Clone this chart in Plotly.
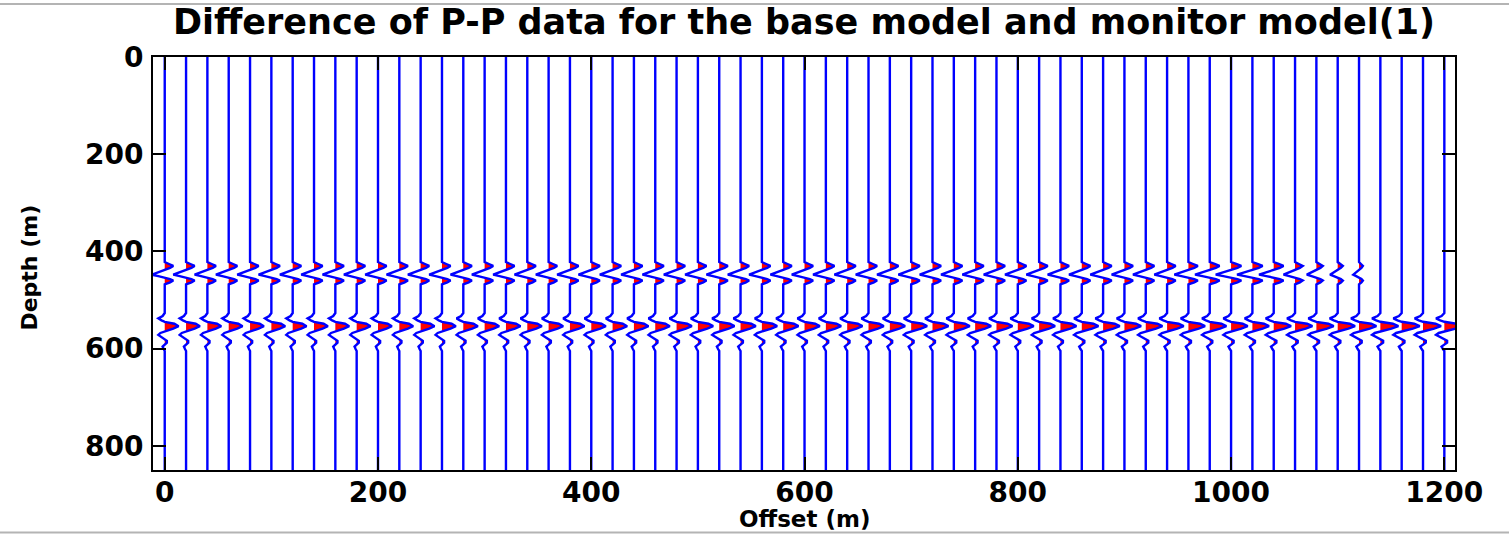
import plotly.graph_objects as go

# ---------------- data ----------------
offsets = list(range(0, 1201, 20))  # trace offsets (m)

# relative amplitude of the shallow event (~448 m) per trace
event1_amp = [1.0] * 48 + [1.1, 1.15, 1.2, 1.2, 1.15, 0.9, 0.75, 0.6, 0.45] + [0.0] * 4
# relative amplitude of the deeper event (~554 m) per trace
event2_amp = [1.0, 1.0, 1.0, 1.0, 1.0, 1.0, 1.0, 1.0, 1.0, 1.0,
              1.0, 1.0, 1.0, 1.0, 1.05, 1.05, 1.05, 1.05, 1.05, 1.05,
              1.05, 1.05, 1.05, 1.05, 1.1, 1.1, 1.1, 1.1, 1.1, 1.1,
              1.1, 1.1, 1.1, 1.1, 1.1, 1.15, 1.15, 1.15, 1.15, 1.15,
              1.15, 1.15, 1.15, 1.2, 1.2, 1.2, 1.2, 1.2, 1.2, 1.2,
              1.2, 1.2, 1.25, 1.25, 1.25, 1.25, 1.25, 1.3, 1.3, 1.3, 1.3]

event1_depth = 448
event2_depth = 554

# wavelet shapes: depth shift (m) and trace deflection (m of offset)
wavelet1_dz = [-26, -22, -18, -14, -10, -5, 0, 3, 6, 9, 12, 16, 20]
wavelet1_a = [0, 4, 8, 5, 0, -7, -12, -6, 0, 5, 8, 5, 0]
wavelet2_dz = [-27, -21, -16, -12, -9, -5, 0, 5, 10, 14, 18, 22, 26, 30, 34, 38, 42, 47, 51]
wavelet2_a = [0, -2, -6, -3, 0, 9, 13, 8, 0, -4, -6, -3, 0, 2, 2, 0, -2, -1, 0]

depth_min, depth_max = 0, 850
x_ticks = [0, 200, 400, 600, 800, 1000, 1200]
y_ticks = [0, 200, 400, 600, 800]

# ---------------- build traces ----------------
line_x, line_y = [], []
fill_x, fill_y = [], []
for off, a1, a2 in zip(offsets, event1_amp, event2_amp):
    dep = [depth_min]
    amp = [0.0]
    if a1 > 0:
        dep += [event1_depth + d for d in wavelet1_dz]
        amp += [a1 * v for v in wavelet1_a]
    if a2 > 0:
        dep += [event2_depth + d for d in wavelet2_dz]
        amp += [a2 * v for v in wavelet2_a]
    dep.append(depth_max)
    amp.append(0.0)
    line_x += [off + v for v in amp] + [None]
    line_y += dep + [None]
    fill_x += [off + max(v, 0.0) for v in amp] + [None]
    fill_y += dep + [None]

fig = go.Figure()
fig.add_trace(go.Scatter(x=fill_x, y=fill_y, mode="lines", fill="toself",
                         fillcolor="#ff0000", line=dict(width=0, color="#ff0000"),
                         hoverinfo="skip", showlegend=False))
fig.add_trace(go.Scatter(x=line_x, y=line_y, mode="lines",
                         line=dict(color="#0000ff", width=2.4),
                         hoverinfo="skip", showlegend=False))

FONT = "DejaVu Sans"
axis_common = dict(showline=True, linecolor="black", linewidth=2, mirror="ticks",
                   ticks="inside", ticklen=13, tickwidth=2, tickcolor="black",
                   showgrid=False, zeroline=False)

fig.update_layout(
    width=1509, height=534,
    margin=dict(l=153, r=54, t=57, b=64),
    paper_bgcolor="white", plot_bgcolor="white",
    title=dict(text="<b>Difference of P-P data for the base model and monitor model(1)</b>",
               x=0.5328, xanchor="center", xref="container",
               y=1 - 22 / 534, yanchor="middle", yref="container",
               font=dict(family=FONT, size=35, color="black")),
    xaxis=dict(range=[-11, 1210], tickvals=x_ticks,
               ticktext=[f"<b>{t}</b>" for t in x_ticks],
               tickfont=dict(family=FONT, size=28, color="black"),
               ticklabelstandoff=-4, **axis_common),
    yaxis=dict(range=[depth_max, depth_min], tickvals=y_ticks,
               ticktext=[f"<b>{t}</b>" for t in y_ticks],
               tickfont=dict(family=FONT, size=28, color="black"),
               ticklabelstandoff=2, **axis_common),
    annotations=[
        dict(text="<b>Offset (m)</b>", xref="paper", yref="paper", x=0.5, y=-0.118,
             xanchor="center", yanchor="middle", showarrow=False,
             font=dict(family=FONT, size=23, color="black")),
        dict(text="<b>Depth (m)</b>", xref="paper", yref="paper", x=-0.0945, y=0.49,
             xanchor="center", yanchor="middle", textangle=-90, showarrow=False,
             font=dict(family=FONT, size=22, color="black")),
    ],
    shapes=[
        dict(type="line", xref="paper", yref="paper", x0=-0.2, x1=1.1,
             y0=(470 - 4) / 413, y1=(470 - 4) / 413, line=dict(color="#b4b4b4", width=2)),
        dict(type="line", xref="paper", yref="paper", x0=-0.2, x1=1.1,
             y0=(470 - 532.5) / 413, y1=(470 - 532.5) / 413, line=dict(color="#b4b4b4", width=2)),
    ],
)

fig.write_html("out.html")
